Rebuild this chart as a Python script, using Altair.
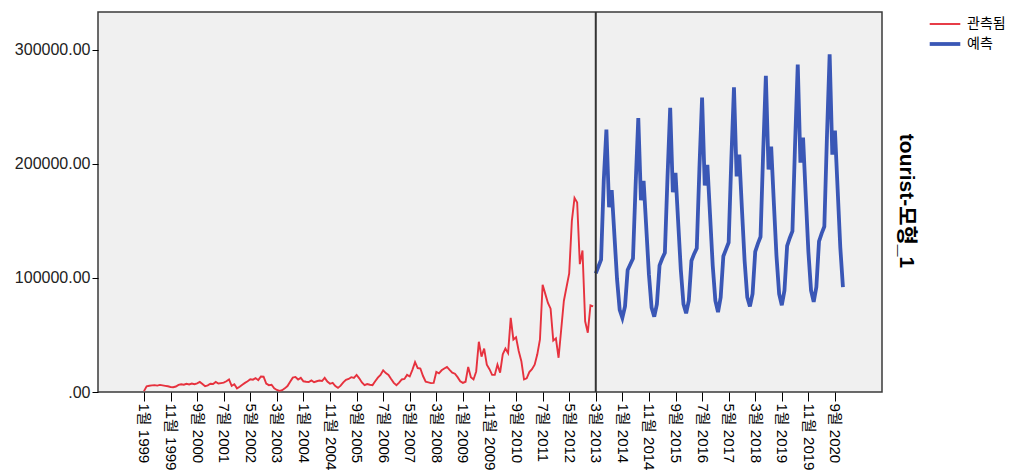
import altair as alt
import pandas as pd

# ---------------- data ----------------
series_names = ["관측됨", "예측"]
model_title = "tourist-모형_1"
start_year = 1999

obs_1999 = [800, 5000, 5500, 5800, 6000, 5600, 6200, 5800, 5400, 5000, 4400, 4200]
obs_2000 = [4800, 6200, 6800, 6400, 7200, 6600, 7400, 6800, 7600, 8800, 7000, 5000]
obs_2001 = [5800, 7200, 7000, 8800, 7400, 7800, 8200, 9400, 11000, 5400, 6800, 3200]
obs_2002 = [4600, 6400, 8000, 9400, 11200, 10800, 12200, 10400, 13600, 13400, 7400, 6000]
obs_2003 = [6400, 3200, 1800, 1000, 1600, 3200, 5200, 9000, 12600, 13200, 11000, 12400]
obs_2004 = [9400, 9000, 8800, 10200, 8600, 9400, 10000, 9600, 12400, 9200, 7200, 8000]
obs_2005 = [5200, 3600, 5600, 8400, 10600, 11400, 13000, 12400, 15000, 12000, 8400, 6000]
obs_2006 = [7000, 6400, 6000, 9400, 12600, 15000, 19000, 16600, 15000, 11400, 8000, 6000]
obs_2007 = [8200, 11000, 11400, 15000, 13600, 19400, 26200, 21000, 20600, 14000, 9000, 8400]
obs_2008 = [7800, 8000, 17600, 16400, 19000, 20600, 22000, 19400, 17000, 16000, 13000, 9400]
obs_2009 = [8000, 9000, 22000, 13000, 11000, 18000, 44000, 31000, 38000, 24000, 20000, 15000]
obs_2010 = [15000, 24000, 17000, 33000, 38000, 34000, 65000, 46000, 48000, 36000, 27000, 11000]
obs_2011 = [12000, 17500, 20000, 24000, 33000, 46000, 94000, 86000, 78000, 73000, 45000, 47000]
obs_2012 = [30000, 55000, 80000, 92000, 104000, 150000, 170000, 166000, 112000, 124000, 62000, 52000]
obs_2013 = [76000, 75000]

fc_2013 = [104000, 110000, 116000, 185000, 230000, 162000, 177000, 138000, 99000, 72000]  # from March
fc_2014 = [65000, 75000, 107000, 112000, 117000, 182000, 240000, 168000, 185000, 144000, 103000, 74000]
fc_2015 = [66000, 77000, 111000, 117000, 122000, 189000, 249000, 175000, 192000, 149000, 107000, 77000]
fc_2016 = [69000, 80000, 115000, 121000, 126000, 196000, 258000, 181000, 199000, 155000, 111000, 80000]
fc_2017 = [70000, 83000, 119000, 125000, 131000, 203000, 267000, 189000, 208000, 160000, 115000, 83000]
fc_2018 = [75000, 86000, 123000, 130000, 136000, 211000, 277000, 195000, 215000, 166000, 119000, 86000]
fc_2019 = [76000, 89000, 128000, 135000, 141000, 218000, 287000, 201000, 223000, 172000, 123000, 89000]
fc_2020 = [79000, 92000, 132000, 139000, 145000, 225000, 296000, 208000, 229000, 178000, 127000, 92000]

tick_labels = ["1월 1999", "11월 1999", "9월 2000", "7월 2001", "5월 2002", "3월 2003",
               "1월 2004", "11월 2004", "9월 2005", "7월 2006", "5월 2007", "3월 2008",
               "1월 2009", "11월 2009", "9월 2010", "7월 2011", "5월 2012", "3월 2013",
               "1월 2014", "11월 2014", "9월 2015", "7월 2016", "5월 2017", "3월 2018",
               "1월 2019", "11월 2019", "9월 2020"]
y_ticks = [0, 100000, 200000, 300000]

# ---------------- build table ----------------
observed = (obs_1999 + obs_2000 + obs_2001 + obs_2002 + obs_2003 + obs_2004 + obs_2005 +
            obs_2006 + obs_2007 + obs_2008 + obs_2009 + obs_2010 + obs_2011 + obs_2012 + obs_2013)
forecast = fc_2013 + fc_2014 + fc_2015 + fc_2016 + fc_2017 + fc_2018 + fc_2019 + fc_2020
forecast_start = len(observed)

rows = [{"t": i, "value": v, "series": series_names[0]} for i, v in enumerate(observed)]
rows += [{"t": forecast_start + i, "value": v, "series": series_names[1]} for i, v in enumerate(forecast)]
df = pd.DataFrame(rows)


def label_pos(s):
    m, y = s.split("월 ")
    return (int(y) - start_year) * 12 + int(m) - 1


tick_pos = [label_pos(s) for s in tick_labels]
label_expr = "[" + ",".join("'" + s + "'" for s in tick_labels) + "][round(datum.value/10)]"

FONT = "Liberation Sans, Arial, Noto Sans CJK KR"
RED = "#E6323E"
BLUE = "#3A57B6"

x_scale = alt.Scale(domain=[-17.3, 277.7], nice=False, zero=False)
y_scale = alt.Scale(domain=[0, 333000], nice=False)

legend_kw = dict(title=None, orient="none", legendX=836, legendY=2,
                 symbolType="M-1.7,0H1.7", symbolSize=324,
                 labelOffset=11, labelFont=FONT, labelFontSize=14,
                 labelColor="#000", padding=0, rowPadding=2)

lines = alt.Chart(df).mark_line().encode(
    x=alt.X("t:Q", scale=x_scale,
            axis=alt.Axis(values=tick_pos, tickCount=len(tick_pos) + 5,
                          labelExpr=label_expr, title=None, grid=False,
                          domain=False, labelAngle=90, labelAlign="left", labelBaseline="middle",
                          labelOverlap=False, labelFlush=False, labelBound=False,
                          tickSize=9, tickColor="#000", labelPadding=2,
                          labelFont=FONT, labelFontSize=15, labelColor="#000")),
    y=alt.Y("value:Q", scale=y_scale,
            axis=alt.Axis(values=y_ticks, title=None, grid=False, domain=False,
                          labelExpr="datum.value == 0 ? '.00' : format(datum.value, '.2f')",
                          tickSize=6, tickColor="#000", labelPadding=2,
                          labelFont=FONT, labelFontSize=16, labelColor="#222")),
    color=alt.Color("series:N",
                    scale=alt.Scale(domain=series_names, range=[RED, BLUE]),
                    legend=alt.Legend(**legend_kw)),
    strokeWidth=alt.StrokeWidth("series:N",
                                scale=alt.Scale(domain=series_names, range=[1.9, 3.8]),
                                legend=alt.Legend(**legend_kw)),
)

rule = alt.Chart(pd.DataFrame({"t": [forecast_start]})).mark_rule(
    color="#333", strokeWidth=2
).encode(x=alt.X("t:Q", scale=x_scale))

title_text = alt.Chart(pd.DataFrame({"label": [model_title]})).mark_text(
    angle=90, font=FONT, fontSize=21, fontWeight="bold", color="#000",
    align="center", baseline="middle"
).encode(text="label:N", x=alt.value(808), y=alt.value(189))

chart = alt.layer(lines, rule, title_text).properties(
    width=784, height=380,
    background="white",
    autosize=alt.AutoSizeParams(type="none"),
    padding={"left": 90, "top": 4, "right": 131, "bottom": 80},
).configure_view(
    fill="#F0F0F0", stroke="#3a3a3a", strokeWidth=1.5
)

chart.save("out.html", embed_options={"renderer": "svg", "actions": False})
